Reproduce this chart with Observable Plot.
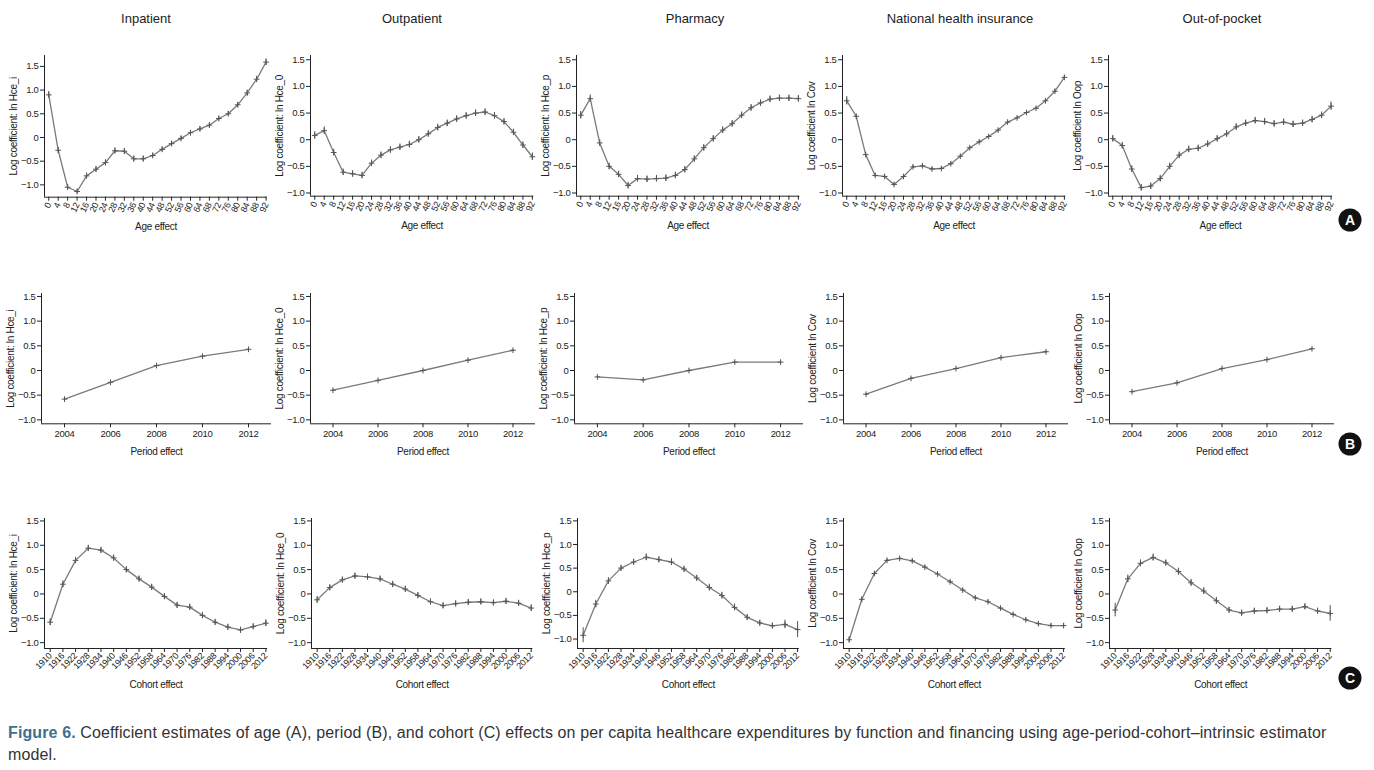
<!DOCTYPE html>
<html><head><meta charset="utf-8">
<script src="https://cdn.jsdelivr.net/npm/d3@7"></script>
<script src="https://cdn.jsdelivr.net/npm/@observablehq/plot@0.6"></script>
<style>
body{margin:0;background:#fff;}
#root{position:relative;width:1374px;height:770px;overflow:hidden;background:#fff;font-family:"Liberation Sans",Arial,sans-serif;}
.panel{position:absolute;}
.title{position:absolute;top:11px;font-size:13px;color:#222;transform:translateX(-50%);white-space:nowrap;font-family:"Liberation Sans",sans-serif;}
.badge{position:absolute;width:23px;height:23px;border-radius:50%;background:#111;color:#fff;font:bold 14px "Liberation Sans",sans-serif;text-align:center;line-height:23px;transform:translate(-50%,-50%);}
.caption{position:absolute;left:8px;top:722px;font-size:16px;line-height:22px;color:#333;font-family:"Liberation Sans",sans-serif;white-space:nowrap;letter-spacing:0.12px;}
.caption b{color:#3f6f8f;}
</style></head><body><div id="root"></div>
<script>
// ---------- data ----------
const colTitles = ["Inpatient","Outpatient","Pharmacy","National health insurance","Out-of-pocket"];
const yLabels = ["Log coefficient: ln Hce_i","Log coefficient: ln Hce_0","Log coefficient: ln Hce_p","Log coefficient ln Cov","Log coefficient ln Oop"];
const rowLabels = ["Age effect","Period effect","Cohort effect"];
const badgeLetters = ["A","B","C"];
const yTicks = [-1,-0.5,0,0.5,1,1.5];
const ages = [0,4,8,12,16,20,24,28,32,36,40,44,48,52,56,60,64,68,72,76,80,84,88,92];
const periods = [2004,2006,2008,2010,2012];
const cohorts = [1910,1916,1922,1928,1934,1940,1946,1952,1958,1964,1970,1976,1982,1988,1994,2000,2006,2012];

// Age effect
const ageInpatient = [0.90,-0.27,-1.05,-1.14,-0.81,-0.67,-0.53,-0.28,-0.29,-0.45,-0.45,-0.38,-0.25,-0.13,-0.02,0.10,0.18,0.26,0.40,0.50,0.69,0.94,1.23,1.59];
const ageInpatientErr = [0.07,0.06,0.05,0.05,0.06,0.06,0.06,0.06,0.06,0.06,0.06,0.05,0.05,0.05,0.05,0.05,0.05,0.05,0.05,0.05,0.05,0.06,0.06,0.07];
const ageOutpatient = [0.08,0.17,-0.24,-0.61,-0.64,-0.67,-0.44,-0.29,-0.19,-0.14,-0.09,0.00,0.11,0.23,0.31,0.39,0.45,0.50,0.52,0.45,0.34,0.14,-0.10,-0.32];
const ageOutpatientErr = [0.07,0.07,0.06,0.06,0.06,0.06,0.06,0.06,0.06,0.06,0.06,0.06,0.06,0.06,0.06,0.06,0.06,0.06,0.06,0.06,0.06,0.06,0.06,0.07];
const agePharmacy = [0.46,0.77,-0.06,-0.50,-0.65,-0.86,-0.73,-0.74,-0.73,-0.72,-0.67,-0.56,-0.36,-0.15,0.02,0.18,0.30,0.46,0.60,0.69,0.76,0.78,0.78,0.77];
const agePharmacyErr = [0.07,0.07,0.06,0.06,0.06,0.06,0.06,0.06,0.06,0.06,0.06,0.06,0.06,0.06,0.06,0.06,0.06,0.06,0.06,0.06,0.06,0.06,0.06,0.06];
const ageNHI = [0.73,0.44,-0.28,-0.67,-0.69,-0.84,-0.69,-0.51,-0.49,-0.55,-0.54,-0.45,-0.31,-0.15,-0.04,0.06,0.18,0.33,0.41,0.51,0.59,0.73,0.91,1.17];
const ageNHIErr = [0.08,0.03,0.03,0.03,0.03,0.03,0.03,0.03,0.03,0.03,0.03,0.03,0.02,0.02,0.02,0.02,0.02,0.02,0.02,0.02,0.02,0.02,0.03,0.03];
const ageOOP = [0.02,-0.11,-0.55,-0.90,-0.87,-0.73,-0.50,-0.29,-0.18,-0.16,-0.08,0.02,0.11,0.24,0.31,0.36,0.34,0.30,0.33,0.29,0.31,0.38,0.46,0.63];
const ageOOPErr = [0.06,0.06,0.06,0.06,0.06,0.06,0.06,0.06,0.06,0.06,0.06,0.06,0.06,0.06,0.06,0.06,0.06,0.06,0.06,0.06,0.06,0.06,0.06,0.08];

// Period effect
const perInpatient = [-0.58,-0.24,0.10,0.29,0.43];
const perOutpatient = [-0.40,-0.20,0.00,0.21,0.41];
const perPharmacy = [-0.13,-0.19,0.00,0.17,0.17];
const perNHI = [-0.48,-0.16,0.04,0.26,0.38];
const perOOP = [-0.43,-0.25,0.04,0.22,0.44];
const perErr = [0.01,0.01,0.01,0.01,0.01];

// Cohort effect
const cohInpatient = [-0.58,0.20,0.69,0.94,0.90,0.74,0.50,0.31,0.14,-0.05,-0.23,-0.27,-0.44,-0.58,-0.68,-0.74,-0.67,-0.60];
const cohInpatientErr = [0.07,0.07,0.06,0.06,0.06,0.06,0.06,0.06,0.06,0.06,0.06,0.06,0.06,0.06,0.06,0.06,0.06,0.07];
const cohOutpatient = [-0.12,0.13,0.29,0.37,0.35,0.31,0.20,0.10,-0.03,-0.16,-0.24,-0.20,-0.17,-0.16,-0.18,-0.15,-0.19,-0.29];
const cohOutpatientErr = [0.07,0.06,0.06,0.06,0.06,0.06,0.06,0.06,0.06,0.06,0.06,0.06,0.06,0.06,0.06,0.06,0.06,0.07];
const cohPharmacy = [-0.92,-0.26,0.23,0.50,0.63,0.73,0.68,0.63,0.48,0.29,0.09,-0.08,-0.33,-0.54,-0.66,-0.72,-0.69,-0.80];
const cohPharmacyErr = [0.16,0.08,0.07,0.06,0.06,0.07,0.06,0.07,0.06,0.06,0.07,0.07,0.07,0.06,0.06,0.06,0.09,0.17];
const cohNHI = [-0.94,-0.11,0.42,0.69,0.73,0.68,0.55,0.41,0.25,0.08,-0.08,-0.16,-0.29,-0.42,-0.53,-0.61,-0.65,-0.65];
const cohNHIErr = [0.06,0.04,0.03,0.03,0.03,0.03,0.03,0.03,0.03,0.03,0.03,0.03,0.03,0.03,0.03,0.03,0.03,0.04];
const cohOOP = [-0.33,0.31,0.63,0.75,0.64,0.46,0.23,0.06,-0.14,-0.33,-0.39,-0.35,-0.34,-0.31,-0.31,-0.26,-0.35,-0.40];
const cohOOPErr = [0.14,0.08,0.07,0.07,0.06,0.07,0.07,0.07,0.07,0.06,0.06,0.06,0.06,0.06,0.06,0.06,0.06,0.16];

const caption = "Coefficient estimates of age (A), period (B), and cohort (C) effects on per capita healthcare expenditures by function and financing using age-period-cohort\u2013intrinsic estimator";
const captionEnd = "model.";

// ---------- layout (pixel geometry of each panel's axes) ----------
const rows = [
  {xs: ages, vals:[ageInpatient,ageOutpatient,agePharmacy,ageNHI,ageOOP], errs:[ageInpatientErr,ageOutpatientErr,agePharmacyErr,ageNHIErr,ageOOPErr],
   xDomain:[-1.8,92.6], rotate:-65, labelDy:33, badgeY:220,
   geo:[{x0:44,x1:267,yTop:55,yBot:196.7,yDom:[-1.26,1.73]},{x0:309.7,x1:533,yTop:55,yBot:195.7,yDom:[-1.06,1.58]},{x0:575.7,x1:799,yTop:55,yBot:195.7,yDom:[-1.06,1.58]},{x0:841.7,x1:1065,yTop:55,yBot:195.7,yDom:[-1.06,1.58]},{x0:1108,x1:1332,yTop:55,yBot:195.7,yDom:[-1.06,1.58]}]},
  {xs: periods, vals:[perInpatient,perOutpatient,perPharmacy,perNHI,perOOP], errs:[perErr,perErr,perErr,perErr,perErr],
   xDomain:[2003,2013], rotate:0, labelDy:31, badgeY:444,
   geo:[{x0:41,x1:271,yTop:293,yBot:423.3,yDom:[-1.08,1.56]},{x0:309.5,x1:534.5,yTop:293,yBot:423.3,yDom:[-1.08,1.56]},{x0:574,x1:803,yTop:293,yBot:423.3,yDom:[-1.08,1.56]},{x0:842.5,x1:1067.5,yTop:293,yBot:423.3,yDom:[-1.08,1.56]},{x0:1108.5,x1:1333.5,yTop:293,yBot:423.3,yDom:[-1.08,1.56]}]},
  {xs: cohorts, vals:[cohInpatient,cohOutpatient,cohPharmacy,cohNHI,cohOOP], errs:[cohInpatientErr,cohOutpatientErr,cohPharmacyErr,cohNHIErr,cohOOPErr],
   xDomain:[1907.3,2012.8], rotate:-45, labelDy:40, badgeY:678,
   geo:[{x0:43.6,x1:266.7,yTop:517.7,yBot:647.7,yDom:[-1.12,1.55]},{x0:311,x1:532.4,yTop:517.7,yBot:647.7,yDom:[-1.12,1.55]},{x0:576.6,x1:798.4,yTop:517.7,yBot:647.7,yDom:[-1.2,1.55]},{x0:842.6,x1:1064.4,yTop:517.7,yBot:647.7,yDom:[-1.12,1.55]},{x0:1108.6,x1:1331,yTop:517.7,yBot:647.7,yDom:[-1.12,1.55]}]}
];
const titleX = [146,412,695,960,1222];
const M = {left:46, right:10, top:6, bottom:50};

const root = document.getElementById("root");
const fmt = d => d === 0 ? "0" : (d < 0 ? "\u2212" : "") + Math.abs(d).toFixed(1);
const lineColor = "#7a7a7a";
const axisColor = "#222";

rows.forEach((row, r) => {
  row.geo.forEach((g, c) => {
    const data = row.xs.map((x, i) => ({x, y: row.vals[c][i], e: row.errs[c][i]}));
    const width = (g.x1 - g.x0) + M.left + M.right;
    const height = (g.yBot - g.yTop) + M.top + M.bottom;
    const chart = Plot.plot({
      width, height,
      marginLeft: M.left, marginRight: M.right, marginTop: M.top, marginBottom: M.bottom,
      style: {fontFamily: '"Liberation Sans",Arial,sans-serif', fontSize: "9.5px", color: axisColor, background: "transparent", overflow: "visible", letterSpacing: "-0.3px"},
      x: {domain: row.xDomain},
      y: {domain: g.yDom},
      marks: [
        Plot.ruleY([g.yDom[0]], {stroke: axisColor, strokeWidth: 1}),
        Plot.ruleX([row.xDomain[0]], {stroke: axisColor, strokeWidth: 1}),
        Plot.axisY({ticks: yTicks, tickFormat: fmt, tickSize: 4, tickPadding: 2, label: null, stroke: axisColor}),
        Plot.axisX({ticks: row.xs, tickFormat: d => String(d), tickSize: 4, tickPadding: 2, tickRotate: row.rotate, label: null, stroke: axisColor, fontSize: row.rotate ? 9 : 9.5}),
        Plot.ruleX(data, {x: "x", y1: d => d.y - d.e, y2: d => d.y + d.e, stroke: "#555", strokeWidth: 1}),
        Plot.line(data, {x: "x", y: "y", stroke: lineColor, strokeWidth: 1.3}),
        Plot.dot(data, {x: "x", y: "y", symbol: "plus", r: 2, stroke: "#555", strokeWidth: 1}),
        Plot.text([yLabels[c]], {text: d => d, frameAnchor: "left", textAnchor: "middle", rotate: -90, dx: -31, fontSize: 10, fill: axisColor}),
        Plot.text([rowLabels[r]], {text: d => d, frameAnchor: "bottom", dy: row.labelDy, fontSize: 10, fill: axisColor})
      ]
    });
    chart.classList.add("panel");
    chart.style.left = (g.x0 - M.left) + "px";
    chart.style.top = (g.yTop - M.top) + "px";
    root.appendChild(chart);
  });
  const b = document.createElement("div");
  b.className = "badge";
  b.textContent = badgeLetters[r];
  b.style.left = "1350px";
  b.style.top = row.badgeY + "px";
  root.appendChild(b);
});

colTitles.forEach((t, c) => {
  const d = document.createElement("div");
  d.className = "title";
  d.textContent = t;
  d.style.left = titleX[c] + "px";
  root.appendChild(d);
});

const cap = document.createElement("div");
cap.className = "caption";
const bEl = document.createElement("b");
bEl.textContent = "Figure 6.";
cap.appendChild(bEl);
cap.appendChild(document.createTextNode(" " + caption));
cap.appendChild(document.createElement("br"));
cap.appendChild(document.createTextNode(captionEnd));
root.appendChild(cap);
</script></body></html>
